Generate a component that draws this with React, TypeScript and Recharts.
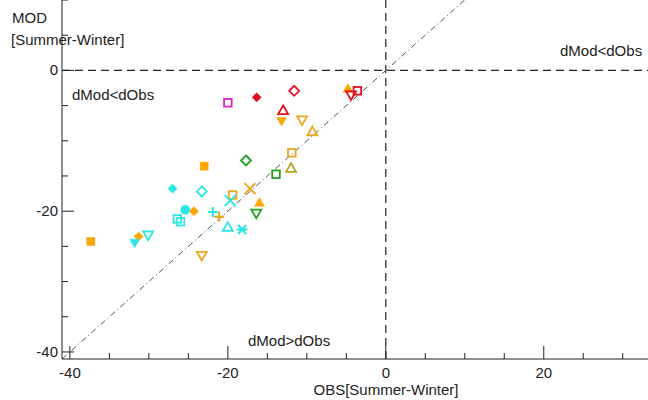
import React from 'react';
import { ScatterChart, Scatter, XAxis, YAxis, ReferenceLine } from 'recharts';

// OBS vs MOD seasonal differences (Summer - Winter)
const orangeSquares = [{ obs: -23.0, mod: -13.6 }, { obs: -37.35, mod: -24.3 }];
const orangeDiamonds = [{ obs: -24.3, mod: -20.0 }, { obs: -31.3, mod: -23.6 }];
const orangeTriDown = [{ obs: -13.2, mod: -7.2 }];
const orangeTriUp = [{ obs: -16.0, mod: -18.8 }, { obs: -4.8, mod: -2.6 }];
const goldSquaresOpen = [{ obs: -11.9, mod: -11.7 }, { obs: -19.4, mod: -17.7 }];
const goldTriDownOpen = [{ obs: -10.6, mod: -7.05 }, { obs: -23.3, mod: -26.3 }];
const goldTriUpOpen = [{ obs: -9.3, mod: -8.7 }];
const goldCrosses = [{ obs: -17.2, mod: -16.8 }];
const goldPluses = [{ obs: -21.1, mod: -20.8 }];
const oliveTriUpOpen = [{ obs: -12.0, mod: -13.9 }];
const cyanDiamonds = [{ obs: -27.0, mod: -16.8 }];
const cyanDiamondsOpen = [{ obs: -23.3, mod: -17.2 }];
const cyanCircles = [{ obs: -25.4, mod: -19.8 }];
const cyanSquaresOpen = [{ obs: -26.4, mod: -21.1 }, { obs: -26.0, mod: -21.5 }];
const cyanPluses = [{ obs: -21.9, mod: -20.1 }];
const cyanCrosses = [{ obs: -19.7, mod: -18.5 }];
const cyanTriDown = [{ obs: -31.8, mod: -24.5 }];
const cyanTriDownOpen = [{ obs: -30.1, mod: -23.4 }];
const cyanTriUpOpen = [{ obs: -20.0, mod: -22.3 }];
const cyanAsterisks = [{ obs: -18.2, mod: -22.6 }];
const greenDiamondsOpen = [{ obs: -17.7, mod: -12.8 }];
const greenSquaresOpen = [{ obs: -13.9, mod: -14.75 }];
const greenTriDownOpen = [{ obs: -16.4, mod: -20.3 }];
const redDiamonds = [{ obs: -16.35, mod: -3.83 }];
const redDiamondsOpen = [{ obs: -11.6, mod: -2.9 }];
const redTriUpOpen = [{ obs: -13.0, mod: -5.7 }];
const redTriDownOpen = [{ obs: -4.4, mod: -3.5 }];
const redSquaresOpen = [{ obs: -3.6, mod: -2.9 }];
const magentaSquaresOpen = [{ obs: -20.0, mod: -4.6 }];

const xTicks = [-40, -35, -30, -25, -20, -15, -10, -5, 0, 5, 10, 15, 20, 25, 30];
const yTicks = [-40, -35, -30, -25, -20, -15, -10, -5, 0, 5, 10];

const ORANGE = '#FFA500';
const GOLD = '#EEA820';
const OLIVE = '#B4A820';
const CYAN = '#2CE6E6';
const GREEN = '#22A022';
const RED = '#E0101E';
const MAGENTA = '#E020C8';
const INK = '#222';
const FONT = '"Liberation Sans", Arial, sans-serif';

type Kind = 'square' | 'diamond' | 'circle' | 'triUp' | 'triDown' | 'plus' | 'cross' | 'asterisk';

const series: { data: { obs: number; mod: number }[]; kind: Kind; color: string; filled: boolean }[] = [
  { data: orangeSquares, kind: 'square', color: ORANGE, filled: true },
  { data: orangeDiamonds, kind: 'diamond', color: ORANGE, filled: true },
  { data: orangeTriDown, kind: 'triDown', color: ORANGE, filled: true },
  { data: orangeTriUp, kind: 'triUp', color: ORANGE, filled: true },
  { data: goldSquaresOpen, kind: 'square', color: GOLD, filled: false },
  { data: goldTriDownOpen, kind: 'triDown', color: GOLD, filled: false },
  { data: goldTriUpOpen, kind: 'triUp', color: GOLD, filled: false },
  { data: goldCrosses, kind: 'cross', color: GOLD, filled: false },
  { data: goldPluses, kind: 'plus', color: GOLD, filled: false },
  { data: oliveTriUpOpen, kind: 'triUp', color: OLIVE, filled: false },
  { data: cyanDiamonds, kind: 'diamond', color: CYAN, filled: true },
  { data: cyanDiamondsOpen, kind: 'diamond', color: CYAN, filled: false },
  { data: cyanCircles, kind: 'circle', color: CYAN, filled: true },
  { data: cyanSquaresOpen, kind: 'square', color: CYAN, filled: false },
  { data: cyanPluses, kind: 'plus', color: CYAN, filled: false },
  { data: cyanCrosses, kind: 'cross', color: CYAN, filled: false },
  { data: cyanTriDown, kind: 'triDown', color: CYAN, filled: true },
  { data: cyanTriDownOpen, kind: 'triDown', color: CYAN, filled: false },
  { data: cyanTriUpOpen, kind: 'triUp', color: CYAN, filled: false },
  { data: cyanAsterisks, kind: 'asterisk', color: CYAN, filled: false },
  { data: greenDiamondsOpen, kind: 'diamond', color: GREEN, filled: false },
  { data: greenSquaresOpen, kind: 'square', color: GREEN, filled: false },
  { data: greenTriDownOpen, kind: 'triDown', color: GREEN, filled: false },
  { data: redDiamonds, kind: 'diamond', color: RED, filled: true },
  { data: redDiamondsOpen, kind: 'diamond', color: RED, filled: false },
  { data: redTriUpOpen, kind: 'triUp', color: RED, filled: false },
  { data: redTriDownOpen, kind: 'triDown', color: RED, filled: false },
  { data: redSquaresOpen, kind: 'square', color: RED, filled: false },
  { data: magentaSquaresOpen, kind: 'square', color: MAGENTA, filled: false },
];

function makeShape(kind: Kind, color: string, filled: boolean) {
  return (props: any) => {
    const { cx, cy } = props;
    if (cx == null || cy == null) return <g />;
    const fill = filled ? color : 'none';
    const common = { fill, stroke: color, strokeWidth: filled ? 0.5 : 1.8 };
    switch (kind) {
      case 'square': {
        const h = filled ? 4 : 3.8;
        return <rect x={cx - h} y={cy - h} width={2 * h} height={2 * h} {...common} />;
      }
      case 'diamond': {
        const h = filled ? 4.6 : 5;
        return <path d={`M${cx},${cy - h}L${cx + h},${cy}L${cx},${cy + h}L${cx - h},${cy}Z`} {...common} />;
      }
      case 'circle':
        return <circle cx={cx} cy={cy} r={4.6} {...common} />;
      case 'triUp':
        return <path d={`M${cx},${cy - 5}L${cx + 5},${cy + 3.6}L${cx - 5},${cy + 3.6}Z`} {...common} />;
      case 'triDown':
        return <path d={`M${cx - 5},${cy - 3.6}L${cx + 5},${cy - 3.6}L${cx},${cy + 5}Z`} {...common} />;
      case 'plus':
        return (
          <path d={`M${cx - 5},${cy}H${cx + 5}M${cx},${cy - 5}V${cy + 5}`} stroke={color} strokeWidth={2} fill="none" />
        );
      case 'cross':
        return (
          <path
            d={`M${cx - 5.5},${cy - 5.5}L${cx + 5.5},${cy + 5.5}M${cx + 5.5},${cy - 5.5}L${cx - 5.5},${cy + 5.5}`}
            stroke={color}
            strokeWidth={2}
            fill="none"
          />
        );
      default:
        return (
          <path
            d={`M${cx - 5.5},${cy}H${cx + 5.5}M${cx - 4},${cy - 4.5}L${cx + 4},${cy + 4.5}M${cx + 4},${cy - 4.5}L${cx - 4},${cy + 4.5}`}
            stroke={color}
            strokeWidth={2}
            fill="none"
          />
        );
    }
  };
}

function XTick(props: any) {
  const { x, y, payload } = props;
  const v = payload.value;
  const major = v % 20 === 0;
  return (
    <g>
      <line x1={x} x2={x} y1={y} y2={y - (major ? 13 : 6)} stroke={INK} strokeWidth={1} />
      {major && (
        <text x={x} y={y + 19} textAnchor="middle" fontSize={15} fontFamily={FONT} fill={INK}>
          {`${v}`}
        </text>
      )}
    </g>
  );
}

function YTick(props: any) {
  const { x, y, payload } = props;
  const v = payload.value;
  const major = v % 20 === 0;
  return (
    <g>
      <line x1={x} x2={x + (major ? 12 : 6)} y1={y} y2={y} stroke={INK} strokeWidth={1} />
      {major && (
        <text x={x - 4} y={y + 5} textAnchor="end" fontSize={15} fontFamily={FONT} fill={INK}>
          {`${v}`}
        </text>
      )}
    </g>
  );
}

export default function App() {
  return (
    <div style={{ position: 'absolute', left: 0, top: 0, width: 648, height: 400, overflow: 'hidden', background: '#fff' }}>
      <ScatterChart width={648} height={400} margin={{ top: 0, right: 0, bottom: 0, left: 0 }}>
        <XAxis
          dataKey="obs"
          type="number"
          domain={[-41, 33.2]}
          ticks={xTicks}
          interval={0}
          tickSize={0}
          tickMargin={0}
          tick={<XTick />}
          height={41}
          axisLine={{ stroke: INK }}
          allowDataOverflow
        />
        <YAxis
          dataKey="mod"
          type="number"
          domain={[-41, 10]}
          ticks={yTicks}
          interval={0}
          tickSize={0}
          tickMargin={0}
          tick={<YTick />}
          width={62}
          axisLine={{ stroke: INK }}
          allowDataOverflow
        />
        <ReferenceLine y={0} stroke={INK} strokeDasharray="8 5" strokeWidth={1.2} />
        <ReferenceLine x={0} stroke={INK} strokeDasharray="8 5" strokeWidth={1.2} />
        <ReferenceLine
          segment={[{ x: -41, y: -41 }, { x: 10, y: 10 }]}
          stroke="#555"
          strokeDasharray="6 3 1 3"
          strokeWidth={1}
          ifOverflow="visible"
        />
        {series.map((s, i) => (
          <Scatter
            key={i}
            data={s.data}
            shape={makeShape(s.kind, s.color, s.filled)}
            isAnimationActive={false}
          />
        ))}
      </ScatterChart>
      <svg
        width={648}
        height={400}
        style={{ position: 'absolute', left: 0, top: 0, pointerEvents: 'none' }}
        fontFamily={FONT}
        fontSize={15}
        fill={INK}
      >
        <text x={12} y={23}>MOD</text>
        <text x={11} y={45}>[Summer-Winter]</text>
        <text x={72} y={100}>dMod&lt;dObs</text>
        <text x={560} y={56}>dMod&lt;dObs</text>
        <text x={248} y={346}>dMod&gt;dObs</text>
        <text x={386} y={395} textAnchor="middle">OBS[Summer-Winter]</text>
      </svg>
    </div>
  );
}
